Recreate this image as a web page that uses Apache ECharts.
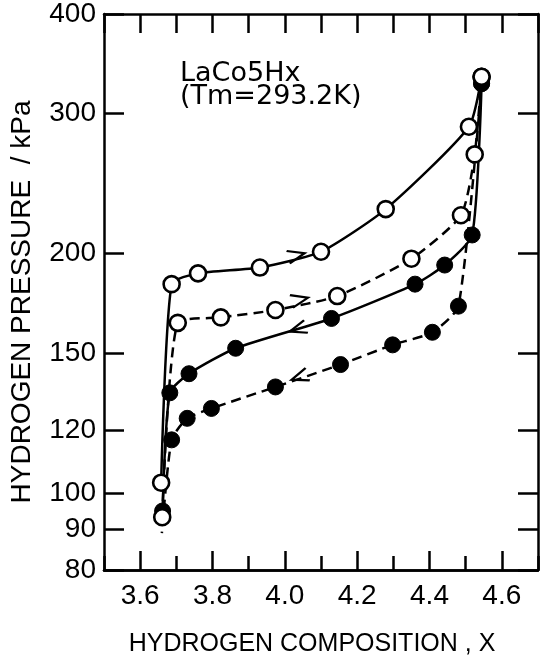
<!DOCTYPE html>
<html style="height: 100%">
<head>
<meta charset="utf-8">
</head>
<body style="height: 100%; margin: 0; background: #fff">
<div id="container" style="width: 548px; height: 662px"></div>
<script src="https://cdn.jsdelivr.net/npm/echarts@6/dist/echarts.min.js"></script>
<script>
// absorption, first run (open circles, solid line)
var absSolidX = [3.658, 3.687, 3.760, 3.931, 4.100, 4.279, 4.509, 4.544];
var absSolidP = [103, 183, 188.8, 192, 201, 227.4, 288.6, 333.6];
// absorption, second run (open circles, dashed line)
var absDashX = [3.661, 3.704, 3.823, 3.974, 4.145, 4.350, 4.487, 4.525, 4.544];
var absDashP = [93.2, 163.6, 166.2, 169.8, 176.8, 197, 223.4, 266.4, 333.6];
// desorption, first run (filled circles, solid line)
var desSolidX = [4.544, 4.518, 4.442, 4.360, 4.129, 3.864, 3.735, 3.682, 3.662];
var desSolidP = [327, 211, 193.4, 183, 165.7, 152, 141.2, 133.6, 94.9];
// desorption, second run (filled circles, dashed line); last point is the line tail
var desDashX = [4.544, 4.480, 4.408, 4.298, 4.154, 3.974, 3.797, 3.730, 3.687, 3.660];
var desDashP = [327, 171.7, 159.2, 153.5, 145, 135.9, 127.7, 124.1, 116.6, 89];

// direction arrows on each curve: [x, P, angle]
var arrows = [
  [4.032, 199, 14],
  [4.041, 175, 13],
  [4.036, 160.7, 197],
  [4.041, 139.9, 199]
];

var xTicks = [3.6, 3.8, 4.0, 4.2, 4.4, 4.6];
var xMinor = [3.5, 3.7, 3.9, 4.1, 4.3, 4.5, 4.7];
var yTicks = [80, 90, 100, 120, 150, 200, 300, 400];

var dom = document.getElementById("container");
var myChart = echarts.init(dom);

function pts(xs, ps, tailNoSymbol) {
  var out = [];
  for (var i = 0; i < xs.length; i++) {
    if (tailNoSymbol && i == xs.length - 1) {
      out.push({value: [xs[i], ps[i]], symbol: 'none'});
    } else {
      out.push([xs[i], ps[i]]);
    }
  }
  return out;
}

function arrow(a) {
  return {
    coord: [a[0], a[1]],
    symbol: 'path://M0,0L14,5L0,10',
    symbolSize: [17, 13],
    symbolRotate: a[2],
    itemStyle: {color: 'rgba(0,0,0,0)', borderColor: '#000', borderWidth: 2.4},
    label: {show: false}
  };
}

var openStyle = {color: '#fff', borderColor: '#000', borderWidth: 2.6};
var fillStyle = {color: '#000', borderColor: '#000', borderWidth: 1};
var font = 'Liberation Sans';

function frameX(pos, ticks, len, labels) {
  return {
    type: 'value', position: pos, min: 3.5, max: 4.7,
    axisLine: {show: true, onZero: false, lineStyle: {color: '#000', width: 2.5}},
    axisTick: {show: true, inside: true, length: len, customValues: ticks,
               lineStyle: {color: '#000', width: 2.5}},
    axisLabel: {show: labels, customValues: xTicks, margin: 12, color: '#000',
                fontSize: 28, fontFamily: font,
                formatter: function (v) { return v.toFixed(1); }},
    splitLine: {show: false}
  };
}

var option = {
  backgroundColor: '#fff',
  animation: false,
  grid: {left: 103, right: 10, top: 13, bottom: 88},
  xAxis: [
    Object.assign(frameX('bottom', xTicks, 19, true), {
      name: 'HYDROGEN COMPOSITION , X', nameLocation: 'middle', nameGap: 62,
      nameTextStyle: {color: '#000', fontSize: 25, fontFamily: font, padding: [0, 18, 0, 0]}
    }),
    frameX('top', xTicks.concat(xMinor), 19, false),
    frameX('bottom', xMinor, 14, false)
  ],
  yAxis: [
    {
      type: 'log', logBase: 10, min: 80, max: 400, position: 'left',
      name: 'HYDROGEN PRESSURE  / kPa', nameLocation: 'middle', nameGap: 68,
      nameTextStyle: {color: '#000', fontSize: 28, fontFamily: font, padding: [0, 20, 0, 0]},
      axisLine: {show: true, onZero: false, lineStyle: {color: '#000', width: 2.5}},
      axisTick: {show: true, inside: true, length: 20, customValues: yTicks,
                 lineStyle: {color: '#000', width: 2.5}},
      axisLabel: {customValues: yTicks, margin: 8, color: '#000', fontSize: 28, fontFamily: font},
      splitLine: {show: false}
    },
    {
      type: 'log', logBase: 10, min: 80, max: 400, position: 'right',
      axisLine: {show: true, onZero: false, lineStyle: {color: '#000', width: 2.5}},
      axisTick: {show: true, inside: true, length: 20, customValues: yTicks,
                 lineStyle: {color: '#000', width: 2.5}},
      axisLabel: {show: false},
      splitLine: {show: false}
    }
  ],
  graphic: [
    {type: 'text', left: 180, top: 60,
     style: {text: 'LaCo5Hx\n(Tm=293.2K)', font: '27px "DejaVu Sans"', fill: '#000', lineHeight: 23}}
  ],
  series: [
    {
      type: 'line', data: pts(desSolidX, desSolidP), symbol: 'circle', symbolSize: 16,
      smooth: 0.2, lineStyle: {color: '#000', width: 2.5}, itemStyle: fillStyle,
      markPoint: {data: [arrow(arrows[2])]}
    },
    {
      type: 'line', data: pts(desDashX, desDashP, true), symbol: 'circle', symbolSize: 16,
      smooth: 0.2, lineStyle: {color: '#000', width: 2.5, type: [10, 6]}, itemStyle: fillStyle,
      markPoint: {data: [arrow(arrows[3])]}
    },
    {
      type: 'line', data: pts(absDashX, absDashP), symbol: 'circle', symbolSize: 16,
      smooth: 0.2, lineStyle: {color: '#000', width: 2.5, type: [10, 6]}, itemStyle: openStyle,
      markPoint: {data: [arrow(arrows[1])]}
    },
    {
      type: 'line', data: pts(absSolidX, absSolidP), symbol: 'circle', symbolSize: 16,
      smooth: 0.2, lineStyle: {color: '#000', width: 2.5}, itemStyle: openStyle,
      markPoint: {data: [arrow(arrows[0])]}
    }
  ]
};

myChart.setOption(option, true);
</script>
</body>
</html>
